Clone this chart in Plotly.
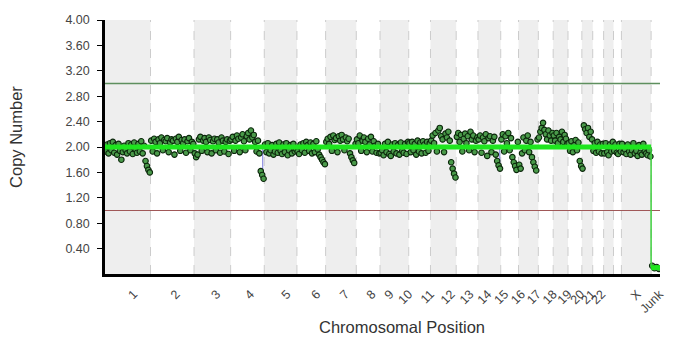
import plotly.graph_objects as go

# ---------------- data ----------------
chromosomes = ["1", "2", "3", "4", "5", "6", "7", "8", "9", "10", "11", "12", "13",
               "14", "15", "16", "17", "18", "19", "20", "21", "22", "X", "Junk"]
# relative chromosome lengths (arbitrary genomic units as drawn)
chrom_lengths = [230, 220, 185, 170, 165, 145, 155, 120, 145, 110, 130, 110, 115,
                 90, 100, 75, 75, 70, 55, 55, 50, 40, 150, 45]
# where each chromosome label sits along the axis (genomic units)
label_positions = [145, 360, 565, 735, 920, 1070, 1215, 1350, 1440, 1535, 1645, 1750, 1845,
                   1935, 2020, 2105, 2185, 2265, 2340, 2405, 2460, 2510, 2690, 2802]

copy_number = {
    "1": [1.93, 2.04, 1.90, 2.06, 1.95, 2.08, 1.91, 2.03, 1.88, 2.05, 1.94, 1.80, 1.92, 2.02,
          1.95, 1.90, 2.06, 1.93, 2.04, 1.89, 2.07, 1.96, 1.91, 2.05, 1.93, 2.09, 1.90, 2.02,
          1.78, 1.70, 1.64, 1.60],
    "2": [2.10, 1.93, 2.13, 2.08, 1.90, 2.12, 2.06, 2.15, 1.95, 2.11, 2.09, 2.14, 1.92, 2.07,
          2.12, 2.10, 1.88, 2.13, 2.08, 2.16, 1.94, 2.11, 2.06, 2.12, 1.91, 2.09, 2.14, 1.95,
          2.08, 2.05],
    "3": [1.90, 1.84, 1.88, 2.12, 2.16, 1.94, 2.10, 2.14, 2.08, 1.92, 2.15, 2.11, 1.90, 2.09,
          2.13, 1.95, 2.12, 2.07, 1.91, 2.15, 2.10, 1.93, 2.08, 2.12, 1.89, 2.10],
    "4": [2.12, 2.16, 1.94, 2.10, 2.18, 2.13, 1.92, 2.15, 2.20, 2.09, 1.95, 2.17, 2.22, 2.12,
          2.26, 2.15, 2.19, 2.08, 1.93, 2.10, 1.90, 1.62, 1.56, 1.50],
    "5": [2.04, 1.92, 2.06, 1.90, 1.95, 2.03, 1.88, 1.93, 2.05, 1.91, 2.07, 1.94, 1.89, 2.04,
          1.92, 2.06, 1.87, 1.95, 2.03, 1.90, 2.05, 1.93, 1.96],
    "6": [1.93, 1.89, 2.04, 1.95, 2.06, 1.91, 2.08, 2.03, 1.94, 2.07, 1.90, 2.05, 1.92, 2.09,
          1.96, 1.88, 1.84, 1.80, 1.76, 1.73],
    "7": [2.08, 2.13, 2.05, 2.16, 1.94, 2.18, 2.11, 2.14, 1.92, 2.17, 2.10, 2.19, 2.12, 1.95,
          2.15, 2.09, 2.13, 1.90, 1.84, 1.79, 1.75, 2.05],
    "8": [2.12, 2.06, 2.18, 1.94, 2.10, 2.15, 2.08, 1.92, 2.13, 2.04, 2.16, 1.93, 2.09, 2.02,
          1.91, 2.05, 1.90],
    "9": [1.91, 1.95, 1.87, 2.05, 1.92, 2.08, 1.89, 1.86, 2.04, 1.93, 2.06, 1.90, 2.03, 1.88,
          2.07, 1.94, 1.91, 2.05, 1.89, 2.08],
    "10": [2.06, 1.92, 2.08, 1.95, 2.05, 1.88, 2.10, 1.93, 2.07, 1.90, 2.09, 2.04, 1.91, 2.08,
           1.94, 2.06],
    "11": [2.10, 2.18, 2.06, 2.22, 1.93, 2.26, 2.30, 2.17, 2.12, 1.92, 2.21, 2.15, 2.24, 2.10,
           1.76, 1.66, 1.58, 1.52],
    "12": [2.16, 2.22, 2.08, 2.19, 1.93, 2.13, 2.21, 2.06, 2.17, 1.95, 2.24, 2.12, 2.18, 1.92,
           2.10, 2.15],
    "13": [2.12, 2.18, 1.91, 2.15, 2.09, 2.20, 1.86, 2.14, 2.17, 1.92, 2.10, 2.16, 1.88, 1.78,
           1.71, 1.66],
    "14": [2.12, 2.20, 1.93, 2.17, 2.06, 2.22, 1.95, 2.14, 1.84, 1.76, 1.70, 1.64, 2.08],
    "15": [1.72, 1.66, 1.90, 2.15, 1.95, 2.10, 2.18, 1.92, 2.08, 1.84, 1.76, 1.69, 1.63, 2.12],
    "16": [2.15, 2.24, 2.30, 2.38, 2.27, 2.20, 2.12, 2.26, 2.18, 2.10, 2.22],
    "17": [2.18, 2.10, 2.22, 2.06, 2.16, 2.12, 2.24, 2.08, 2.19, 2.13, 2.05],
    "18": [2.06, 1.94, 2.09, 1.92, 2.03, 2.11, 1.95, 2.07, 1.78, 1.70],
    "19": [1.66, 2.34, 2.28, 2.22, 2.30, 2.16, 2.24, 2.12],
    "20": [1.94, 2.06, 1.91, 2.08, 1.93, 2.04, 1.90, 2.05],
    "21": [1.90, 2.06, 1.92, 1.87, 2.04, 1.93, 2.08],
    "22": [1.94, 2.04, 1.91, 1.89, 2.05, 1.93],
    "X": [2.05, 1.92, 1.96, 1.89, 2.04, 1.93, 1.88, 1.95, 2.06, 1.90, 1.94, 1.86, 2.03, 1.91,
          1.88, 2.05, 1.93, 1.90, 1.87, 1.95, 1.85],
    "Junk": [0.13, 0.09, 0.11, 0.08],
}
# segmented copy number (one value per chromosome)
segment_mean = [2.0] * 23 + [0.1]
# small focal loss segments: chromosome, offset within chromosome, low value
focal_chrom = ["4", "13"]
focal_offset = [162, 110]
focal_low = [1.58, 1.70]

gain_threshold = 3.0
loss_threshold = 1.0
y_ticks = [0.4, 0.8, 1.2, 1.6, 2.0, 2.4, 2.8, 3.2, 3.6, 4.0]

# ---------------- build ----------------
starts = []
acc = 0
for L in chrom_lengths:
    starts.append(acc)
    acc += L
total = acc

px, py = [], []
for c, s, L in zip(chromosomes, starts, chrom_lengths):
    vals = copy_number[c]
    n = len(vals)
    for i, v in enumerate(vals):
        px.append(s + (i + 0.5) * L / n)
        py.append(v)

fig = go.Figure()

shapes = []
for i, (s, L) in enumerate(zip(starts, chrom_lengths)):
    if i % 2 == 0:
        shapes.append(dict(type="rect", xref="x", yref="y", x0=s, x1=s + L, y0=0, y1=4,
                           fillcolor="#eeeeee", line=dict(width=0), layer="below"))
for i in range(1, len(starts)):
    shapes.append(dict(type="line", xref="x", yref="y", x0=starts[i], x1=starts[i], y0=0, y1=4,
                       line=dict(color="#cccccc", width=1, dash="dash"), layer="below"))

# threshold lines
fig.add_trace(go.Scatter(x=[0, total], y=[gain_threshold, gain_threshold], mode="lines",
                         line=dict(color="#5e8f5e", width=1.6), hoverinfo="skip", showlegend=False))
fig.add_trace(go.Scatter(x=[0, total], y=[loss_threshold, loss_threshold], mode="lines",
                         line=dict(color="#a05858", width=1.1), hoverinfo="skip", showlegend=False))

# focal loss segment markers
for c, off, low in zip(focal_chrom, focal_offset, focal_low):
    xi = starts[chromosomes.index(c)] + off
    fig.add_trace(go.Scatter(x=[xi, xi], y=[1.97, low], mode="lines",
                             line=dict(color="#8c8ce0", width=1.2), hoverinfo="skip",
                             showlegend=False))

# probe points
fig.add_trace(go.Scatter(x=px, y=py, mode="markers",
                         marker=dict(size=5.5, color="#4a9a4a",
                                     line=dict(color="#0b260b", width=1.1)),
                         showlegend=False))

# segment line
seg_x, seg_y = [], []
for s, L, m in zip(starts[:-1], chrom_lengths[:-1], segment_mean[:-1]):
    seg_x += [s, s + L]
    seg_y += [m, m]
fig.add_trace(go.Scatter(x=seg_x, y=seg_y, mode="lines",
                         line=dict(color="#1ee61e", width=5), showlegend=False))
js = starts[-1]
fig.add_trace(go.Scatter(x=[js, js], y=[segment_mean[-2], segment_mean[-1]], mode="lines",
                         line=dict(color="#3ed03e", width=1.5), showlegend=False))
fig.add_trace(go.Scatter(x=[js, js + chrom_lengths[-1]], y=[segment_mean[-1]] * 2, mode="lines",
                         line=dict(color="#1ee61e", width=5), showlegend=False))

font_family = "Arial, Liberation Sans, sans-serif"
fig.update_layout(
    width=674, height=338,
    margin=dict(l=105, r=8, t=20, b=64),
    paper_bgcolor="white", plot_bgcolor="white",
    font=dict(family=font_family, color="#333333"),
    shapes=shapes,
    xaxis=dict(range=[0, total], showgrid=False, zeroline=False,
               showline=True, linecolor="black", linewidth=3,
               tickmode="array", tickvals=label_positions, ticktext=chromosomes,
               tickangle=-45, ticks="", ticklabelstandoff=5,
               tickfont=dict(size=12.5, color="#444444")),
    yaxis=dict(range=[0, 4], showgrid=False, zeroline=False,
               showline=True, linecolor="black", linewidth=2.5,
               tickmode="array", tickvals=y_ticks, ticktext=[f"{v:.2f}" for v in y_ticks],
               ticks="outside", ticklen=5, tickcolor="black", tickwidth=1,
               ticklabelstandoff=5,
               tickfont=dict(size=12.5, color="#444444")),
    annotations=[
        dict(text="Copy Number", xref="paper", yref="paper",
             x=(15 - 105) / 561, y=(274 - 137) / 254, textangle=-90,
             showarrow=False, xanchor="center", yanchor="middle",
             font=dict(size=16.5, color="#333333")),
        dict(text="Chromosomal Position", xref="paper", yref="paper",
             x=(405 - 105) / 561, y=(274 - 327) / 254,
             showarrow=False, xanchor="center", yanchor="middle",
             font=dict(size=16.5, color="#333333")),
    ],
)

fig.write_html("out.html")
